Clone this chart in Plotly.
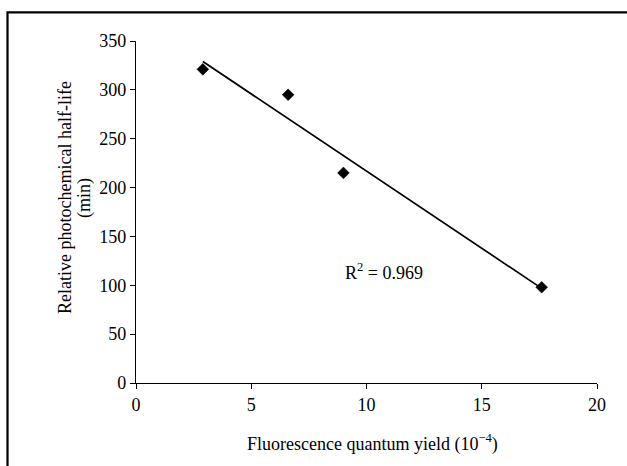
import numpy as np
import plotly.graph_objects as go

# Data
quantum_yield = [2.9, 6.6, 9.0, 17.6]          # x, 10^-4
half_life = [321, 295, 215, 98]                # y, min
x_ticks = [0, 5, 10, 15, 20]
y_ticks = [0, 50, 100, 150, 200, 250, 300, 350]
r2_label = "R<sup>2</sup> = 0.969"
x_title = "Fluorescence quantum yield (10<sup>\u22124</sup>)"
y_title_lines = ["Relative photochemical half-life", "(min)"]

# Linear trend line fitted from the data
slope, intercept = np.polyfit(quantum_yield, half_life, 1)
trend_x = [min(quantum_yield), max(quantum_yield)]
trend_y = [slope * v + intercept for v in trend_x]

font_family = "Liberation Serif, Times New Roman, serif"

W, H = 627, 466
L, R, T, B = 136, 30, 41, 83
pw, ph = W - L - R, H - T - B


def px_to_paper_x(px):
    return (px - L) / pw


def px_to_paper_y(py):
    return (H - B - py) / ph


fig = go.Figure()
fig.add_trace(go.Scatter(
    x=trend_x, y=trend_y, mode="lines",
    line=dict(color="black", width=1.7),
    hoverinfo="skip", showlegend=False,
))
fig.add_trace(go.Scatter(
    x=quantum_yield, y=half_life, mode="markers",
    marker=dict(symbol="diamond", size=9, color="black",
                line=dict(color="black", width=0.6)),
    showlegend=False,
))

fig.add_annotation(
    x=9.0, y=114, xref="x", yref="y", text=r2_label, showarrow=False,
    xanchor="left", yanchor="middle",
    font=dict(family=font_family, size=18, color="black"),
)

# Axis titles
fig.add_annotation(
    x=px_to_paper_x(372), y=px_to_paper_y(443), xref="paper", yref="paper",
    text=x_title, showarrow=False, xanchor="center", yanchor="middle",
    font=dict(family=font_family, size=18, color="black"),
)
for cx, line in zip([65, 85], y_title_lines):
    fig.add_annotation(
        x=px_to_paper_x(cx), y=px_to_paper_y(198), xref="paper", yref="paper",
        text=line, showarrow=False, xanchor="center", yanchor="middle",
        textangle=-90,
        font=dict(family=font_family, size=18, color="black"),
    )

# Outer frame around the figure
fig.add_shape(
    type="path", xref="paper", yref="paper",
    path=f"M {px_to_paper_x(7.5)},{px_to_paper_y(480)} "
         f"L {px_to_paper_x(7.5)},{px_to_paper_y(12.3)} "
         f"L {px_to_paper_x(640)},{px_to_paper_y(12.3)}",
    line=dict(color="black", width=2.2),
)

axis_common = dict(
    showgrid=False, zeroline=False, showline=True, linecolor="black",
    linewidth=1.3, ticks="outside", ticklen=5, tickwidth=1.2, tickcolor="black",
    tickfont=dict(family=font_family, size=18, color="black"),
)

fig.update_layout(
    width=W, height=H,
    margin=dict(l=L, r=R, t=T, b=B),
    paper_bgcolor="white", plot_bgcolor="white",
    font=dict(family=font_family, color="black"),
    xaxis=dict(
        range=[0, 20], tickvals=x_ticks, ticktext=[str(v) for v in x_ticks],
        **axis_common,
    ),
    yaxis=dict(
        range=[0, 350], tickvals=y_ticks, ticktext=[str(v) for v in y_ticks],
        **axis_common,
    ),
)

fig.write_html("out.html")
